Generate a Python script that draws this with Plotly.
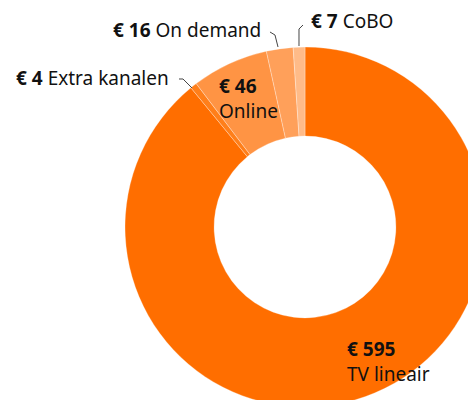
import plotly.graph_objects as go

categories = ["TV lineair", "Extra kanalen", "Online", "On demand", "CoBO"]
values = [595, 4, 46, 16, 7]
colors = ["#FF6E00", "#FF7F1A", "#FF9444", "#FFA05A", "#FFBB88"]

W, H = 490, 410

def px(x):
    return x / W

def py(y):
    return 1 - y / H

fig = go.Figure(go.Pie(
    labels=categories,
    values=values,
    sort=False,
    direction="clockwise",
    rotation=0,
    hole=0.505,
    textinfo="none",
    hoverinfo="label+value",
    marker=dict(colors=colors, line=dict(color="rgba(255,255,255,0.5)", width=0.6)),
    domain=dict(x=[px(125), px(485)], y=[1 - 407 / H, 1 - 47 / H]),
))

FONT = dict(family="Noto Sans", size=19, color="#111111")
anns = [
    ("<b>€ 16</b> On demand", 263, 30, "right"),
    ("<b>€ 7</b> CoBO", 309, 21, "left"),
    ("<b>€ 4</b> Extra kanalen", 171, 78, "right"),
    ("<b>€ 46</b><br>Online", 217, 98, "left"),
    ("<b>€ 595</b><br>TV lineair", 345, 361, "left"),
]
for text, x, y, xa in anns:
    fig.add_annotation(
        text=text, x=px(x), y=py(y), xref="paper", yref="paper",
        xanchor=xa, yanchor="middle", showarrow=False, align="left",
        font=FONT,
    )

leaders = [
    [(270, 32), (275, 35), (278, 47)],
    [(303, 25), (299, 29), (299, 46)],
    [(179, 79), (183, 79), (192, 88)],
]
for pts in leaders:
    path = "M " + " L ".join(f"{px(a):.5f},{py(b):.5f}" for a, b in pts)
    fig.add_shape(type="path", path=path, xref="paper", yref="paper",
                  line=dict(color="#444444", width=1))

fig.update_layout(
    width=W, height=H, autosize=False,
    margin=dict(l=0, r=0, t=0, b=0),
    showlegend=False,
    paper_bgcolor="white",
)

fig.write_html(
    "out.html",
    config={"displayModeBar": False},
    post_script="document.body.style.margin='0';document.body.style.overflow='hidden';document.documentElement.style.overflow='hidden';",
)
